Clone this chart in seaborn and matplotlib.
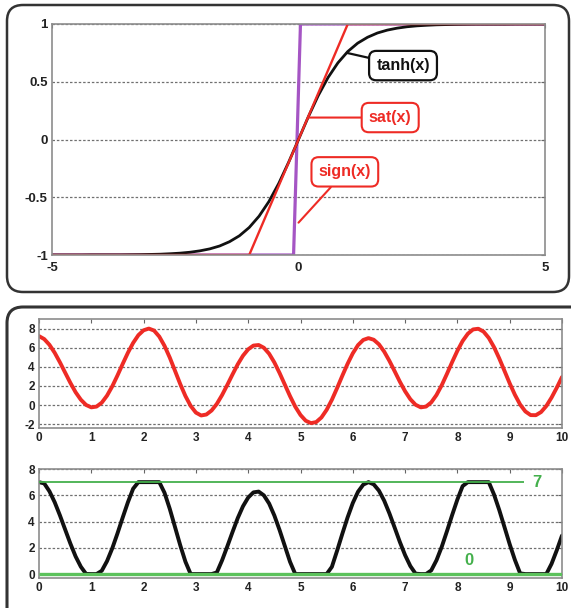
import matplotlib
matplotlib.use("Agg")
import matplotlib.pyplot as plt
from matplotlib.patches import FancyBboxPatch
import seaborn as sns

# --- top panel : tanh / sat / sign -------------------------------------
x_tanh = [-5.0, -4.8, -4.6, -4.4, -4.2, -4.0, -3.8, -3.6, -3.4, -3.2,
          -3.0, -2.8, -2.6, -2.4, -2.2, -2.0, -1.8, -1.6, -1.4, -1.2,
          -1.0, -0.8, -0.6, -0.4, -0.2, 0.0, 0.2, 0.4, 0.6, 0.8,
          1.0, 1.2, 1.4, 1.6, 1.8, 2.0, 2.2, 2.4, 2.6, 2.8,
          3.0, 3.2, 3.4, 3.6, 3.8, 4.0, 4.2, 4.4, 4.6, 4.8, 5.0]
y_tanh = [-1.000, -1.000, -1.000, -1.000, -0.999, -0.999, -0.999, -0.999, -0.998, -0.997,
          -0.995, -0.993, -0.989, -0.984, -0.976, -0.964, -0.947, -0.922, -0.885, -0.834,
          -0.762, -0.664, -0.537, -0.380, -0.197, 0.000, 0.197, 0.380, 0.537, 0.664,
          0.762, 0.834, 0.885, 0.922, 0.947, 0.964, 0.976, 0.984, 0.989, 0.993,
          0.995, 0.997, 0.998, 0.999, 0.999, 0.999, 0.999, 1.000, 1.000, 1.000, 1.000]
x_sat = [-5.0, -1.0, 1.0, 5.0]
y_sat = [-1.0, -1.0, 1.0, 1.0]
x_sign = [-5.0, -0.1, 0.04, 5.0]
y_sign = [-1.0, -1.0, 1.0, 1.0]

top_xticks = [-5, 0, 5]
top_xlabels = ["-5", "0", "5"]
top_yticks = [-1, -0.5, 0, 0.5, 1]
top_ylabels = ["-1", "-0.5", "0", "0.5", "1"]

# --- bottom panel : signal and saturated signal -------------------------
t_sig = [0.0, 0.1, 0.2, 0.3, 0.4, 0.5, 0.6, 0.7, 0.8, 0.9,
         1.0, 1.1, 1.2, 1.3, 1.4, 1.5, 1.6, 1.7, 1.8, 1.9,
         2.0, 2.1, 2.2, 2.3, 2.4, 2.5, 2.6, 2.7, 2.8, 2.9,
         3.0, 3.1, 3.2, 3.3, 3.4, 3.5, 3.6, 3.7, 3.8, 3.9,
         4.0, 4.1, 4.2, 4.3, 4.4, 4.5, 4.6, 4.7, 4.8, 4.9,
         5.0, 5.1, 5.2, 5.3, 5.4, 5.5, 5.6, 5.7, 5.8, 5.9,
         6.0, 6.1, 6.2, 6.3, 6.4, 6.5, 6.6, 6.7, 6.8, 6.9,
         7.0, 7.1, 7.2, 7.3, 7.4, 7.5, 7.6, 7.7, 7.8, 7.9,
         8.0, 8.1, 8.2, 8.3, 8.4, 8.5, 8.6, 8.7, 8.8, 8.9,
         9.0, 9.1, 9.2, 9.3, 9.4, 9.5, 9.6, 9.7, 9.8, 9.9, 10.0]
y_sig = [7.21, 6.90, 6.30, 5.47, 4.47, 3.39, 2.32, 1.34, 0.56, 0.01,
         -0.24, -0.16, 0.25, 0.98, 1.95, 3.09, 4.30, 5.47, 6.50, 7.31,
         7.82, 8.00, 7.79, 7.16, 6.19, 4.97, 3.59, 2.20, 0.94, -0.09,
         -0.79, -1.09, -0.99, -0.57, 0.12, 1.04, 2.10, 3.20, 4.26, 5.16,
         5.83, 6.22, 6.28, 5.99, 5.37, 4.46, 3.35, 2.14, 0.93, -0.17,
         -1.04, -1.64, -1.89, -1.78, -1.30, -0.50, 0.55, 1.78, 3.07, 4.31,
         5.41, 6.27, 6.81, 7.00, 6.83, 6.35, 5.59, 4.62, 3.54, 2.44,
         1.44, 0.61, 0.03, -0.24, -0.16, 0.28, 1.05, 2.07, 3.26, 4.50,
         5.68, 6.70, 7.46, 7.91, 7.98, 7.68, 7.02, 6.06, 4.88, 3.58,
         2.27, 1.07, 0.05, -0.67, -1.05, -1.06, -0.73, -0.10, 0.78, 1.81, 2.93]
y_satsig = [7.00, 6.90, 6.30, 5.47, 4.47, 3.39, 2.32, 1.34, 0.56, 0.01,
            0.00, 0.00, 0.25, 0.98, 1.95, 3.09, 4.30, 5.47, 6.50, 7.00,
            7.00, 7.00, 7.00, 7.00, 6.19, 4.97, 3.59, 2.20, 0.94, 0.00,
            0.00, 0.00, 0.00, 0.00, 0.12, 1.04, 2.10, 3.20, 4.26, 5.16,
            5.83, 6.22, 6.28, 5.99, 5.37, 4.46, 3.35, 2.14, 0.93, 0.00,
            0.00, 0.00, 0.00, 0.00, 0.00, 0.00, 0.55, 1.78, 3.07, 4.31,
            5.41, 6.27, 6.81, 7.00, 6.83, 6.35, 5.59, 4.62, 3.54, 2.44,
            1.44, 0.61, 0.03, 0.00, 0.00, 0.28, 1.05, 2.07, 3.26, 4.50,
            5.68, 6.70, 7.00, 7.00, 7.00, 7.00, 7.00, 6.06, 4.88, 3.58,
            2.27, 1.07, 0.05, 0.00, 0.00, 0.00, 0.00, 0.00, 0.78, 1.81, 2.93]

sat_upper = 7
sat_lower = 0
sat_labels = ["7", "0"]

bot_xticks = [0, 1, 2, 3, 4, 5, 6, 7, 8, 9, 10]
bot_xlabels = ["0", "1", "2", "3", "4", "5", "6", "7", "8", "9", "10"]
s1_yticks = [-2, 0, 2, 4, 6, 8]
s1_ylabels = ["-2", "0", "2", "4", "6", "8"]
s2_yticks = [0, 2, 4, 6, 8]
s2_ylabels = ["0", "2", "4", "6", "8"]

RED = "#ee2b25"
PURPLE = "#a555c4"
BLACK = "#111111"
GREEN = "#44b04c"
GREEN_LIGHT = "#5cc25c"

sns.set_theme(style="white")
plt.rcParams["font.family"] = ["Liberation Sans", "DejaVu Sans"]

W, H = 571, 608
fig = plt.figure(figsize=(W / 100, H / 100), dpi=100)
fig.patch.set_facecolor("white")


def px_axes(x0, y0, x1, y1):
    # pixel box (top-left origin) -> figure fraction
    return fig.add_axes([x0 / W, 1 - y1 / H, (x1 - x0) / W, (y1 - y0) / H])


def panel(x0, y0, x1, y1, lw):
    p = FancyBboxPatch((x0 / 100, (H - y1) / 100), (x1 - x0) / 100, (y1 - y0) / 100,
                       boxstyle="round,pad=0,rounding_size=0.16",
                       transform=fig.dpi_scale_trans, fc="none", ec="#333333",
                       lw=lw, zorder=0)
    fig.add_artist(p)


def style(ax, xt, xl, yt, yl, fs):
    for sp in ax.spines.values():
        sp.set_visible(True)
        sp.set_color("#8c8c8c")
        sp.set_linewidth(1.2)
    ax.set_xticks(xt)
    ax.set_xticklabels(xl, fontsize=fs, fontweight="bold", color="#222222")
    ax.set_yticks(yt)
    ax.set_yticklabels(yl, fontsize=fs, fontweight="bold", color="#222222")
    ax.tick_params(direction="in", length=3, width=0.8, colors="#666666",
                   top=True, right=True, pad=3)
    for lbl in ax.get_xticklabels() + ax.get_yticklabels():
        lbl.set_color("#222222")
    ax.yaxis.grid(True, linestyle=(0, (2, 1.5)), color="#707070", lw=0.9)
    ax.xaxis.grid(False)
    ax.set_axisbelow(True)
    ax.set_xlabel("")
    ax.set_ylabel("")


panel(7, 5, 569, 292, 1.8)
panel(7, 307, 600, 640, 2.2)

# top plot
ax = px_axes(52, 24, 545, 255)
sns.lineplot(x=x_sign, y=y_sign, ax=ax, color=PURPLE, lw=2.3, sort=False, estimator=None)
sns.lineplot(x=x_tanh, y=y_tanh, ax=ax, color=BLACK, lw=2.0, sort=False, estimator=None)
sns.lineplot(x=x_sat, y=y_sat, ax=ax, color=RED, lw=1.7, sort=False, estimator=None)
ax.set_xlim(-5, 5)
ax.set_ylim(-1, 1)
style(ax, top_xticks, top_xlabels, top_yticks, top_ylabels, 9.5)
ax.tick_params(axis="x", pad=5)

box_kw = dict(ha="center", va="center", fontsize=11.5, fontweight="bold")
ax.annotate("tanh(x)", xy=(0.98, 0.75), xytext=(2.12, 0.64), color=BLACK,
            bbox=dict(boxstyle="round,pad=0.45", fc="white", ec=BLACK, lw=1.6),
            arrowprops=dict(arrowstyle="-", color=BLACK, lw=1.6, shrinkA=0, shrinkB=0),
            **box_kw)
ax.annotate("sat(x)", xy=(0.2, 0.19), xytext=(1.86, 0.19), color=RED,
            bbox=dict(boxstyle="round,pad=0.45", fc="white", ec=RED, lw=1.5),
            arrowprops=dict(arrowstyle="-", color=RED, lw=1.5, shrinkA=0, shrinkB=0),
            **box_kw)
ax.annotate("sign(x)", xy=(0.0, -0.72), xytext=(0.94, -0.28), color=RED,
            bbox=dict(boxstyle="round,pad=0.45", fc="white", ec=RED, lw=1.5),
            arrowprops=dict(arrowstyle="-", color=RED, lw=1.5, shrinkA=0, shrinkB=0),
            **box_kw)

# bottom plot 1 : raw signal
ax1 = px_axes(39, 319, 562, 428)
sns.lineplot(x=t_sig, y=y_sig, ax=ax1, color=RED, lw=2.8, sort=False, estimator=None)
ax1.set_xlim(0, 10)
ax1.set_ylim(-2.4, 9)
style(ax1, bot_xticks, bot_xlabels, s1_yticks, s1_ylabels, 8.5)

# bottom plot 2 : saturated signal
ax2 = px_axes(39, 469, 562, 578)
sns.lineplot(x=t_sig, y=y_satsig, ax=ax2, color=BLACK, lw=2.8, sort=False, estimator=None)
ax2.hlines(sat_upper, 0, 9.27, color=GREEN, lw=1.3, zorder=4)
ax2.hlines(sat_lower, 0, 10, color=GREEN_LIGHT, lw=2.4, zorder=4)
ax2.text(9.52, sat_upper, sat_labels[0], color=GREEN, fontsize=12, fontweight="bold",
         ha="center", va="center")
ax2.text(8.22, sat_lower + 1.0, sat_labels[1], color=GREEN, fontsize=12, fontweight="bold",
         ha="center", va="center")
ax2.set_xlim(0, 10)
ax2.set_ylim(-0.3, 8)
style(ax2, bot_xticks, bot_xlabels, s2_yticks, s2_ylabels, 8.5)

fig.savefig("out.png", dpi=100)
